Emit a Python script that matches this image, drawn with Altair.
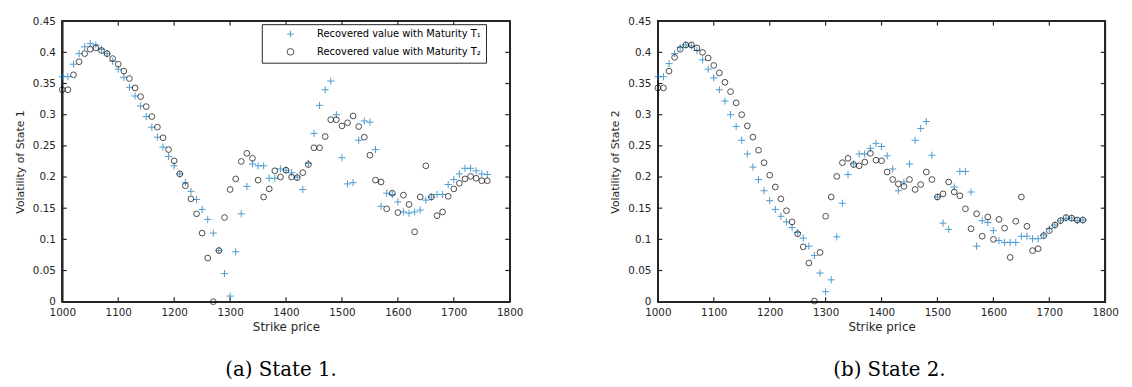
import altair as alt
import pandas as pd

# ---------------- data ----------------
strikes = [1000, 1010, 1020, 1030, 1040, 1050, 1060, 1070, 1080, 1090,
           1100, 1110, 1120, 1130, 1140, 1150, 1160, 1170, 1180, 1190,
           1200, 1210, 1220, 1230, 1240, 1250, 1260, 1270, 1280, 1290,
           1300, 1310, 1320, 1330, 1340, 1350, 1360, 1370, 1380, 1390,
           1400, 1410, 1420, 1430, 1440, 1450, 1460, 1470, 1480, 1490,
           1500, 1510, 1520, 1530, 1540, 1550, 1560, 1570, 1580, 1590,
           1600, 1610, 1620, 1630, 1640, 1650, 1660, 1670, 1680, 1690,
           1700, 1710, 1720, 1730, 1740, 1750, 1760]

s1_T1 = [0.361, 0.361, 0.381, 0.398, 0.409, 0.414, 0.412, 0.405, 0.398, 0.386,
         0.373, 0.360, 0.344, 0.330, 0.314, 0.297, 0.280, 0.264, 0.248, 0.233,
         0.218, 0.205, 0.191, 0.177, 0.164, 0.148, 0.132, 0.110, 0.082, 0.045,
         0.009, 0.080, 0.141, 0.185, 0.221, 0.218, 0.218, 0.198, 0.198, 0.213,
         0.211, 0.207, 0.200, 0.180, 0.222, 0.270, 0.315, 0.340, 0.354, 0.300,
         0.231, 0.189, 0.191, 0.259, 0.290, 0.288, 0.244, 0.153, 0.174, 0.172,
         0.160, 0.144, 0.142, 0.144, 0.147, 0.163, 0.168, 0.172, 0.172, 0.188,
         0.196, 0.205, 0.214, 0.214, 0.210, 0.205, 0.204]

s1_T2 = [0.340, 0.340, 0.364, 0.385, 0.398, 0.405, 0.407, 0.403, 0.398, 0.390,
         0.381, 0.370, 0.358, 0.343, 0.329, 0.313, 0.297, 0.280, 0.263, 0.244,
         0.226, 0.205, 0.186, 0.165, 0.141, 0.110, 0.070, 0.000, 0.082, 0.135,
         0.180, 0.197, 0.225, 0.238, 0.230, 0.195, 0.168, 0.181, 0.210, 0.200,
         0.211, 0.200, 0.199, 0.207, 0.220, 0.247, 0.247, 0.265, 0.292, 0.292,
         0.282, 0.287, 0.298, 0.281, 0.264, 0.235, 0.195, 0.192, 0.149, 0.174,
         0.143, 0.171, 0.156, 0.112, 0.168, 0.218, 0.168, 0.138, 0.144, 0.169,
         0.181, 0.190, 0.197, 0.201, 0.198, 0.194, 0.194]

s2_T1 = [0.361, 0.361, 0.382, 0.398, 0.408, 0.412, 0.410, 0.403, 0.388, 0.373,
         0.359, 0.340, 0.322, 0.300, 0.281, 0.259, 0.237, 0.216, 0.196, 0.178,
         0.162, 0.148, 0.137, 0.128, 0.119, 0.111, 0.102, 0.089, 0.074, 0.046,
         0.016, 0.035, 0.104, 0.158, 0.204, 0.221, 0.237, 0.237, 0.246, 0.254,
         0.249, 0.234, 0.213, 0.178, 0.192, 0.221, 0.259, 0.278, 0.289, 0.235,
         0.168, 0.126, 0.116, 0.184, 0.209, 0.209, 0.176, 0.089, 0.130, 0.127,
         0.114, 0.098, 0.095, 0.095, 0.095, 0.105, 0.105, 0.101, 0.101, 0.107,
         0.117, 0.123, 0.130, 0.134, 0.134, 0.130, 0.131]

s2_T2 = [0.343, 0.343, 0.370, 0.392, 0.405, 0.412, 0.412, 0.407, 0.400, 0.391,
         0.379, 0.367, 0.352, 0.337, 0.319, 0.300, 0.282, 0.264, 0.243, 0.223,
         0.203, 0.184, 0.165, 0.146, 0.128, 0.109, 0.088, 0.062, 0.001, 0.079,
         0.137, 0.168, 0.201, 0.223, 0.230, 0.220, 0.218, 0.224, 0.238, 0.227,
         0.226, 0.208, 0.196, 0.189, 0.185, 0.196, 0.180, 0.188, 0.208, 0.196,
         0.168, 0.173, 0.192, 0.176, 0.170, 0.149, 0.117, 0.141, 0.105, 0.136,
         0.100, 0.132, 0.118, 0.071, 0.129, 0.168, 0.121, 0.082, 0.085, 0.106,
         0.114, 0.123, 0.130, 0.135, 0.134, 0.131, 0.131]

x_ticks = [1000, 1100, 1200, 1300, 1400, 1500, 1600, 1700, 1800]
y_ticks = [0, 0.05, 0.1, 0.15, 0.2, 0.25, 0.3, 0.35, 0.4, 0.45]

series_names = ["Recovered value with Maturity T\u2081",
                "Recovered value with Maturity T\u2082"]
y_titles = ["Volatility of State 1", "Volatility of State 2"]
captions = ["(a) State 1.", "(b) State 2."]

# ---------------- style ----------------
W, H = 453, 284
TICK = 4.5
AX = "#262626"
LW = 1.2
BLUE = "#0072BD"
PLUS = "M-1,0L1,0M0,-1L0,1"
FONT = "DejaVu Sans"


def panel(t1, t2, ytitle, caption, legend_x, legend_y, cap_dx):
    X = alt.X("strike:Q",
              scale=alt.Scale(domain=[1000, 1800], nice=False, zero=False, padding=0),
              axis=alt.Axis(values=x_ticks, format="d", title="Strike price",
                            grid=False, domain=True, domainColor=AX, domainWidth=LW,
                            ticks=False, labelFlush=False, labelOverlap=False,
                            labelPadding=6, titlePadding=4))
    Y = alt.Y("vol:Q",
              scale=alt.Scale(domain=[0, 0.45], nice=False, padding=0),
              axis=alt.Axis(values=y_ticks, format="~g", title=ytitle,
                            grid=False, domain=True, domainColor=AX, domainWidth=LW,
                            ticks=False, labelFlush=False, labelOverlap=False,
                            labelPadding=7, titlePadding=7))
    leg = alt.Legend(title=None, orient="none", legendX=legend_x, legendY=legend_y)
    C = alt.Color("series:N",
                  scale=alt.Scale(domain=series_names, range=[BLUE, "black"]),
                  legend=leg)
    S = alt.Shape("series:N",
                  scale=alt.Scale(domain=series_names, range=[PLUS, "circle"]),
                  legend=leg)

    d1 = pd.DataFrame({"strike": strikes, "vol": t1, "series": series_names[0]})
    d2 = pd.DataFrame({"strike": strikes, "vol": t2, "series": series_names[1]})
    p1 = alt.Chart(d1).mark_point(filled=False, strokeWidth=1, size=52).encode(
        x=X, y=Y, color=C, shape=S)
    p2 = alt.Chart(d2).mark_point(filled=False, strokeWidth=1, size=34).encode(
        x=X, y=Y, color=C, shape=S)

    tdx = pd.DataFrame({"strike": x_ticks})
    tdy = pd.DataFrame({"vol": y_ticks})
    rule = dict(color=AX, strokeWidth=LW)
    frame = alt.Chart(tdx).mark_rect(fillOpacity=0, stroke=AX, strokeWidth=LW).encode(
        x=alt.value(0), x2=alt.value(W), y=alt.value(0), y2=alt.value(H))
    top_edge = alt.Chart(tdx).mark_rule(**rule).encode(
        x=alt.value(0), x2=alt.value(W), y=alt.value(0))
    right_edge = alt.Chart(tdy).mark_rule(**rule).encode(
        x=alt.value(W), y=alt.value(0), y2=alt.value(H))
    tb = alt.Chart(tdx).mark_rule(**rule).encode(x=X, y=alt.value(H - TICK), y2=alt.value(H))
    tt = alt.Chart(tdx).mark_rule(**rule).encode(x=X, y=alt.value(0), y2=alt.value(TICK))
    tl = alt.Chart(tdy).mark_rule(**rule).encode(y=Y, x=alt.value(0), x2=alt.value(TICK))
    tr = alt.Chart(tdy).mark_rule(**rule).encode(y=Y, x=alt.value(W - TICK), x2=alt.value(W))
    return alt.layer(frame, top_edge, right_edge, tb, tt, tl, tr, p1, p2).properties(
        width=W, height=H,
        title=alt.TitleParams(text=caption, orient="bottom", anchor="middle",
                              frame="group", font="DejaVu Serif", fontSize=20,
                              fontWeight="normal", color="black", offset=28, dx=cap_dx),
    )


left = panel(s1_T1, s1_T2, y_titles[0], captions[0], 202, 3, -5)
right = panel(s2_T1, s2_T2, y_titles[1], captions[1], 194, 10, 8)

chart = alt.hconcat(left, right, spacing=150, bounds="flush").properties(
    padding={"left": 6, "top": 5, "right": 5, "bottom": 2}
).configure_view(
    stroke=AX, strokeWidth=LW
).configure_axis(
    labelFont=FONT, labelFontSize=10.5, labelColor=AX,
    titleFont=FONT, titleFontSize=12, titleFontWeight="normal", titleColor=AX,
).configure_axisY(
    titleFontSize=11
).configure_legend(
    labelFont=FONT, labelFontSize=10, labelColor="black", labelLimit=400,
    padding=5, rowPadding=6, symbolOffset=19, labelOffset=22,
    strokeColor=AX, fillColor="white", symbolStrokeWidth=1, symbolSize=45,
    cornerRadius=0,
)

chart.save("out.html", embed_options={"renderer": "svg", "actions": False})
